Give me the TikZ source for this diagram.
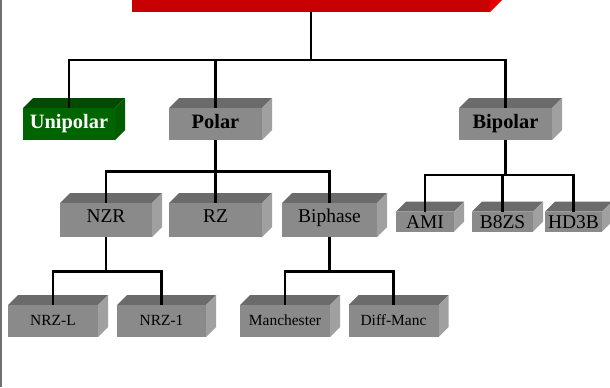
\documentclass[tikz,border=0pt]{standalone}
\usepackage{fontspec}
\setmainfont{Liberation Serif}
\definecolor{gfront}{HTML}{8A8A8A}
\definecolor{gtop}{HTML}{6B6B6B}
\definecolor{gside}{HTML}{A0A0A0}
\definecolor{vfront}{HTML}{006400}
\definecolor{vtop}{HTML}{004B00}
\definecolor{vside}{HTML}{005C00}
\definecolor{rfront}{HTML}{C80000}
\definecolor{rtop}{HTML}{A00000}
\definecolor{rside}{HTML}{E60000}
\definecolor{edgegray}{HTML}{707070}
\tikzset{
  front/.style={inner sep=0pt, outer sep=0pt, draw=none},
  conn/.style={line width=1.9pt, black},
  lvlone/.style={font=\fontsize{15.3}{16}\selectfont\bfseries, anchor=base, yshift=-3.7pt},
  lvltwo/.style={font=\fontsize{14.6}{16}\selectfont, anchor=base, yshift=-1.6pt},
  lvlami/.style={font=\fontsize{14.6}{16}\selectfont, anchor=base, yshift=-4.8pt},
  lvlthree/.style={font=\fontsize{11.6}{13}\selectfont, anchor=base, yshift=-3.1pt},
}
% name, cx, cy, w, h, colour prefix, text style, text
\newcommand\cubebox[8]{%
  \fill[#6top] ({#2-#4/2},{#3-#5/2}) -- ++(10,-10) -- ++(#4,0) -- ++(-10,10) -- cycle;
  \fill[#6side] ({#2+#4/2},{#3-#5/2}) -- ++(10,-10) -- ++(0,#5) -- ++(-10,10) -- cycle;
  \node[front, fill=#6front, minimum width=#4*0.75pt, minimum height=#5*0.75pt] (#1) at (#2,#3) {};
  \node[#7] (#1-t) at (#2,#3) {#8};
}
\begin{document}
\begin{tikzpicture}[x=0.75pt, y=-0.75pt]
\useasboundingbox (0,0) rectangle (610,387);
\clip (0,0) rectangle (610,387);
\fill[white] (0,0) rectangle (610,387);
\fill[edgegray] (0,0) rectangle (1.5,387);

% title box (cut off at top)
\fill[rside] (490,-40) -- ++(12,-12) -- ++(0,52) -- ++(-12,12) -- cycle;
\node[front, fill=rfront, minimum width=358.3*0.75pt, minimum height=52*0.75pt] (title) at (310.85,-14) {};

% level 1
\cubebox{uni}{69}{124}{92}{32}{v}{lvlone, white}{Unipolar}
\cubebox{polar}{215.5}{124}{93}{32}{g}{lvlone}{Polar}
\cubebox{bipolar}{505.5}{124}{93}{32}{g}{lvlone}{Bipolar}

% level 2 (polar)
\cubebox{nzr}{106}{220}{92}{34}{g}{lvltwo}{NZR}
\cubebox{rz}{215.5}{220}{93}{34}{g}{lvltwo}{RZ}
\cubebox{biphase}{329.5}{220}{95}{34}{g}{lvltwo}{Biphase}

% level 2 (bipolar)
\cubebox{ami}{425}{221.7}{58}{20}{g}{lvlami}{AMI}
\cubebox{b8zs}{502.5}{221.7}{61}{20}{g}{lvlami}{B8ZS}
\cubebox{hd3b}{573.5}{221.7}{57}{20}{g}{lvlami}{HD3B}

% level 3
\cubebox{nrzl}{53}{321}{90}{32}{g}{lvlthree}{NRZ-L}
\cubebox{nrzi}{161.5}{321}{89}{32}{g}{lvlthree}{NRZ-1}
\cubebox{manch}{285}{321}{90}{32}{g}{lvlthree}{Manchester}
\cubebox{diffm}{393.5}{321}{90}{32}{g}{lvlthree}{Diff-Manc}

% junction levels
\coordinate (j0) at (0,60);
\coordinate (j1) at (0,171.7);
\coordinate (j2) at (0,175);
\coordinate (j3) at (0,271.7);

\draw[conn] (title.south) -- (title.south |- j0);
\draw[conn] (title.south |- j0) -| (uni.north);
\draw[conn] (title.south |- j0) -| (polar.north);
\draw[conn] (title.south |- j0) -| (bipolar.north);

\draw[conn] (polar.south) -- (polar.south |- j1);
\draw[conn] (polar.south |- j1) -| (nzr.north);
\draw[conn] (polar.south |- j1) -| (rz.north);
\draw[conn] (polar.south |- j1) -| (biphase.north);

\draw[conn] (bipolar.south) -- (bipolar.south |- j2);
\draw[conn] (bipolar.south |- j2) -| (ami.north);
\draw[conn] (bipolar.south |- j2) -| (b8zs.north);
\draw[conn] (bipolar.south |- j2) -| (hd3b.north);

\draw[conn] (nzr.south) -- (nzr.south |- j3);
\draw[conn] (nzr.south |- j3) -| (nrzl.north);
\draw[conn] (nzr.south |- j3) -| (nrzi.north);

\draw[conn] (biphase.south) -- (biphase.south |- j3);
\draw[conn] (biphase.south |- j3) -| (manch.north);
\draw[conn] (biphase.south |- j3) -| (diffm.north);
\end{tikzpicture}
\end{document}
